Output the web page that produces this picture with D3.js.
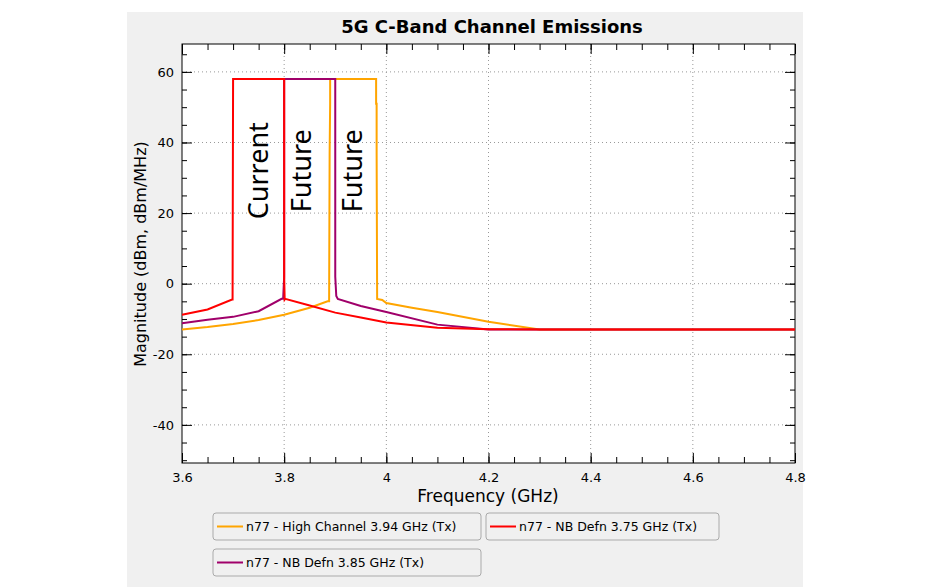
<!DOCTYPE html><html><head><meta charset="utf-8">
<script src="https://cdn.jsdelivr.net/npm/d3@7"></script>
<style>body{margin:0;background:#fff}svg{font-family:"DejaVu Sans",Verdana,sans-serif}</style></head><body>
<svg id="c" width="930" height="587"></svg>
<script>
const xTicks=[3.6,3.8,4,4.2,4.4,4.6,4.8];
const yTicks=[-40,-20,0,20,40,60];
const seriesNames=["n77 - High Channel 3.94 GHz (Tx)","n77 - NB Defn 3.75 GHz (Tx)","n77 - NB Defn 3.85 GHz (Tx)"];
const seriesColors=["#ffa500","#ff0000","#a0006a"];
const orangeF=[3.6,3.65,3.7,3.75,3.8,3.85,3.885,3.888,3.889,3.889,3.89,3.89,3.98,3.98,3.981,3.981,3.982,3.992,4.0,4.05,4.1,4.2,4.3,4.8];
const orangeV=[-13,-12.3,-11.4,-10.3,-8.8,-6.8,-5,-5,37,37,51,58,58,51,51,37,-4.3,-4.6,-5.5,-6.8,-8,-10.8,-13,-13];
const redF=[3.6,3.65,3.698,3.699,3.7,3.8,3.8,3.801,3.802,3.85,3.9,3.95,4.0,4.1,4.2,4.3,4.8];
const redV=[-8.8,-7.3,-4.5,-4.5,58,58,2,-4.5,-4.3,-6.2,-8.2,-9.6,-11,-12.5,-12.9,-13,-13];
const purF=[3.6,3.65,3.7,3.75,3.795,3.798,3.8,3.8,3.9,3.9,3.902,3.905,3.95,4.0,4.1,4.2,4.8];
const purV=[-11.2,-10.2,-9.4,-7.8,-4.3,-4.3,2,58,58,2,-3.5,-4.3,-6.3,-8,-11.6,-13,-13];
const bandLabels=["Current","Future","Future"];
const bandCenters=[3.748,3.832,3.932];

const svg=d3.select("#c");
svg.append("rect").attr("x",127).attr("y",12).attr("width",676).attr("height",575).attr("fill","#f0f0f0");
const L=182,R=795,T=44,B=463;
const x=d3.scaleLinear().domain([3.6,4.8]).range([L,R]);
const y=d3.scaleLinear().domain([-50.8,67.9]).range([B,T]);
svg.append("rect").attr("x",L).attr("y",T).attr("width",R-L).attr("height",B-T).attr("fill","#fff");
svg.append("g").selectAll("line").data(xTicks.slice(1,-1)).join("line").attr("x1",d=>x(d)).attr("x2",d=>x(d)).attr("y1",T).attr("y2",B).attr("stroke","#999").attr("stroke-dasharray","1,3");
svg.append("g").selectAll("line").data(yTicks).join("line").attr("y1",d=>y(d)).attr("y2",d=>y(d)).attr("x1",L).attr("x2",R).attr("stroke","#999").attr("stroke-dasharray","1,3");
const minorX=d3.range(3.6,4.801,0.05), minorY=d3.range(-50,66,5);
function ticksG(axisFn,sc,vals,len,tr){const g=svg.append("g").attr("transform",tr).call(axisFn(sc).tickValues(vals).tickSize(len).tickFormat(""));g.select(".domain").remove();g.selectAll("line").attr("stroke","#000");}
ticksG(d3.axisTop,x,minorX,6,`translate(0,${B})`);ticksG(d3.axisTop,x,xTicks,10,`translate(0,${B})`);
ticksG(d3.axisBottom,x,minorX,6,`translate(0,${T})`);ticksG(d3.axisBottom,x,xTicks,10,`translate(0,${T})`);
ticksG(d3.axisRight,y,minorY,5,`translate(${L},0)`);ticksG(d3.axisRight,y,yTicks,10,`translate(${L},0)`);
ticksG(d3.axisLeft,y,minorY,5,`translate(${R},0)`);ticksG(d3.axisLeft,y,yTicks,10,`translate(${R},0)`);
svg.append("rect").attr("x",L).attr("y",T).attr("width",R-L).attr("height",B-T).attr("fill","none").attr("stroke","#000");
const gx=svg.append("g").attr("transform",`translate(0,${B})`).call(d3.axisBottom(x).tickValues(xTicks).tickSize(0).tickPadding(10).tickFormat(d=>String(d)));
gx.select(".domain").remove();gx.selectAll("text").attr("font-size",13).attr("font-family","DejaVu Sans").attr("fill","#000");
const gy=svg.append("g").attr("transform",`translate(${L},0)`).call(d3.axisLeft(y).tickValues(yTicks).tickSize(0).tickPadding(8).tickFormat(d=>String(d)));
gy.select(".domain").remove();gy.selectAll("text").attr("font-size",13).attr("font-family","DejaVu Sans").attr("fill","#000");
const line=d3.line().x(d=>x(d[0])).y(d=>y(d[1]));
const data=[d3.zip(orangeF,orangeV),d3.zip(redF,redV),d3.zip(purF,purV)];
[0,2,1].forEach(i=>svg.append("path").datum(data[i]).attr("d",line).attr("fill","none").attr("stroke",seriesColors[i]).attr("stroke-width",2));
bandLabels.forEach((t,i)=>svg.append("text").attr("transform",`translate(${x(bandCenters[i])+10},${y(32)}) rotate(-90)`).attr("text-anchor","middle").attr("font-size",27).attr("font-family","Noto Sans").text(t));
svg.append("text").attr("x",492).attr("y",33).attr("text-anchor","middle").attr("font-size",18).attr("font-weight","bold").text("5G C-Band Channel Emissions");
svg.append("text").attr("x",488).attr("y",502).attr("text-anchor","middle").attr("font-size",17).text("Frequency (GHz)");
svg.append("text").attr("transform",`translate(146,${254}) rotate(-90)`).attr("text-anchor","middle").attr("font-size",16).text("Magnitude (dBm, dBm/MHz)");
const boxes=[[213,513,268],[486,513,233],[213,549,268]];
seriesNames.forEach((n,i)=>{const [bx,by,bw]=boxes[i];const g=svg.append("g").attr("transform",`translate(${bx},${by})`);
g.append("rect").attr("width",bw).attr("height",27).attr("rx",3).attr("fill","#f0f0f0").attr("stroke","#aaa");
g.append("line").attr("x1",4).attr("x2",30).attr("y1",13.5).attr("y2",13.5).attr("stroke",seriesColors[i]).attr("stroke-width",2);
g.append("text").attr("x",33).attr("y",18).attr("font-size",12.5).text(n);});
</script></body></html>
